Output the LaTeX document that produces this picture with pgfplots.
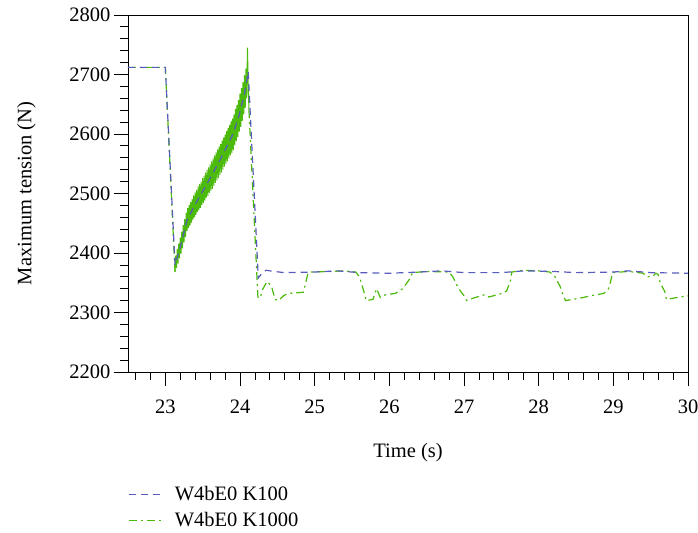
\documentclass[border=0pt]{standalone}
\usepackage{pgfplots}
\pgfplotsset{compat=1.18}
\usepackage{fontspec}
\setmainfont{Liberation Serif}
\definecolor{cblue}{RGB}{88,92,188}
\definecolor{cgreen}{RGB}{76,186,10}
\begin{document}
\begin{tikzpicture}
\begin{axis}[
  scale only axis, width=560bp, height=357bp,
  xmin=22.5, xmax=30, ymin=2200, ymax=2800,
  xtick={23,24,...,30},
  minor xtick={22.6,22.8,23.2,23.4,23.6,23.8,24.2,24.4,24.6,24.8,25.2,25.4,25.6,25.8,26.2,26.4,26.6,26.8,27.2,27.4,27.6,27.8,28.2,28.4,28.6,28.8,29.2,29.4,29.6,29.8},
  ytick={2200,2300,...,2800}, minor y tick num=4,
  tick pos=left, tick align=outside,
  major tick length=14bp, minor tick length=8bp,
  axis line style={line width=0.8bp},
  every tick/.style={black, line width=0.8bp},
  font=\fontsize{20.5bp}{24bp}\selectfont,
  /pgf/number format/assume math mode=true,
  /pgf/number format/1000 sep={},
  xticklabel style={yshift=-10bp},
  xlabel={Time (s)}, ylabel={Maximum tension (N)},
  xlabel style={yshift=-23bp},
  ylabel style={yshift=27bp},
  legend style={at={(0,-0.315)}, anchor=north west, draw=none, fill=none,
    row sep=6bp, inner sep=0pt, font=\fontsize{20.5bp}{24bp}\selectfont},
  legend cell align=left,
  legend image code/.code={\path[draw=none] (0bp,0bp) -- (44bp,0bp);\draw[#1] (0bp,0bp) -- (35bp,0bp);},
]
\addlegendimage{cblue, line width=1.2bp, dash pattern=on 7bp off 5bp}
\addlegendentry{W4bE0 K100}
\addlegendimage{cgreen, line width=1.2bp, dash pattern=on 8bp off 4bp on 2bp off 4bp}
\addlegendentry{W4bE0 K1000}

% K1000 (green) -- before the first drop
\addplot[forget plot, cgreen, line width=1.2bp, dash pattern=on 8bp off 4bp on 2bp off 4bp] coordinates {
(22.5,2712) (23.0,2712) (23.13,2368)
};
% K1000 (green) -- oscillating rise
\addplot[forget plot, cgreen, line width=1bp] coordinates {
(23.13,2368)
(23.14,2396) (23.15,2375) (23.16,2407) (23.17,2382) (23.18,2416) (23.19,2391)
(23.20,2426) (23.21,2399) (23.22,2436) (23.23,2408) (23.24,2447) (23.25,2418)
(23.26,2457) (23.27,2427) (23.28,2468) (23.29,2437) (23.30,2476) (23.31,2442)
(23.32,2481) (23.33,2446) (23.34,2486) (23.35,2451) (23.36,2491) (23.37,2456)
(23.38,2497) (23.39,2460) (23.40,2502) (23.41,2464) (23.42,2506) (23.43,2469)
(23.44,2512) (23.45,2472) (23.46,2516) (23.47,2476) (23.48,2520) (23.49,2481)
(23.50,2526) (23.51,2484) (23.52,2530) (23.53,2488) (23.54,2535) (23.55,2493)
(23.56,2540) (23.57,2496) (23.58,2544) (23.59,2501) (23.60,2549) (23.61,2505)
(23.62,2554) (23.63,2508) (23.64,2559) (23.65,2513) (23.66,2564) (23.67,2518)
(23.68,2569) (23.69,2522) (23.70,2574) (23.71,2526) (23.72,2579) (23.73,2531)
(23.74,2583) (23.75,2535) (23.76,2589) (23.77,2540) (23.78,2594) (23.79,2545)
(23.80,2599) (23.81,2550) (23.82,2605) (23.83,2554) (23.84,2610) (23.85,2559)
(23.86,2615) (23.87,2564) (23.88,2621) (23.89,2568) (23.90,2626) (23.91,2573)
(23.92,2633) (23.93,2581) (23.94,2642) (23.95,2588) (23.96,2649) (23.97,2595)
(23.98,2657) (23.99,2604) (24.00,2668) (24.01,2612) (24.02,2677) (24.03,2622)
(24.04,2687) (24.05,2633) (24.06,2699) (24.07,2644) (24.08,2710) (24.09,2660)
(24.10,2745) (24.11,2685) (24.12,2640)
};
% K1000 (green) -- after the second drop
\addplot[forget plot, cgreen, line width=1.2bp, dash pattern=on 8bp off 4bp on 2bp off 4bp] coordinates {
(24.12,2640)
(24.24,2326) (24.27,2324) (24.30,2338) (24.36,2352) (24.42,2345) (24.47,2322)
(24.52,2320) (24.58,2328) (24.64,2332) (24.75,2333) (24.85,2334) (24.88,2350)
(24.91,2366) (24.95,2368) (25.2,2369) (25.4,2370) (25.55,2368)
(25.60,2360) (25.66,2335) (25.69,2320) (25.78,2322) (25.83,2340) (25.88,2325)
(25.95,2330) (26.08,2332) (26.18,2340) (26.27,2356) (26.31,2367) (26.5,2369)
(26.8,2368) (26.85,2360) (26.93,2340) (27.0,2328) (27.04,2320) (27.12,2324)
(27.2,2327) (27.28,2330) (27.33,2326) (27.48,2331) (27.57,2336) (27.62,2352)
(27.64,2368) (27.8,2371) (28.0,2370) (28.15,2368) (28.22,2360) (28.29,2343)
(28.33,2328) (28.36,2320) (28.55,2324) (28.73,2329) (28.87,2332) (28.93,2338)
(28.96,2350) (28.99,2367) (29.2,2369) (29.4,2366) (29.45,2360) (29.53,2361)
(29.57,2366) (29.6,2364) (29.63,2349) (29.69,2335) (29.71,2322) (29.80,2324)
(29.89,2326) (30.0,2328)
};

% K100 (blue)
\addplot[forget plot, cblue, line width=1.2bp, dash pattern=on 7bp off 5bp] coordinates {
(22.5,2712) (23.0,2712) (23.13,2380) (23.2,2410) (23.29,2455) (23.4,2482)
(23.51,2506) (23.62,2530) (23.73,2556) (23.82,2578) (23.91,2601) (23.98,2628)
(24.04,2657) (24.08,2680) (24.11,2705) (24.245,2358) (24.30,2367) (24.35,2371)
(24.45,2369) (24.6,2367) (25.0,2368) (25.3,2370) (25.6,2367) (26.0,2366)
(26.4,2368) (26.7,2370) (27.0,2367) (27.5,2367) (27.8,2370) (28.2,2369)
(28.5,2367) (29.0,2368) (29.2,2370) (29.5,2367) (30.0,2366)
};
\end{axis}
\pgfresetboundingbox
\path ([xshift=-128bp,yshift=-161bp]current axis.south west) rectangle ([xshift=10bp,yshift=15bp]current axis.north east);
\end{tikzpicture}
\end{document}
